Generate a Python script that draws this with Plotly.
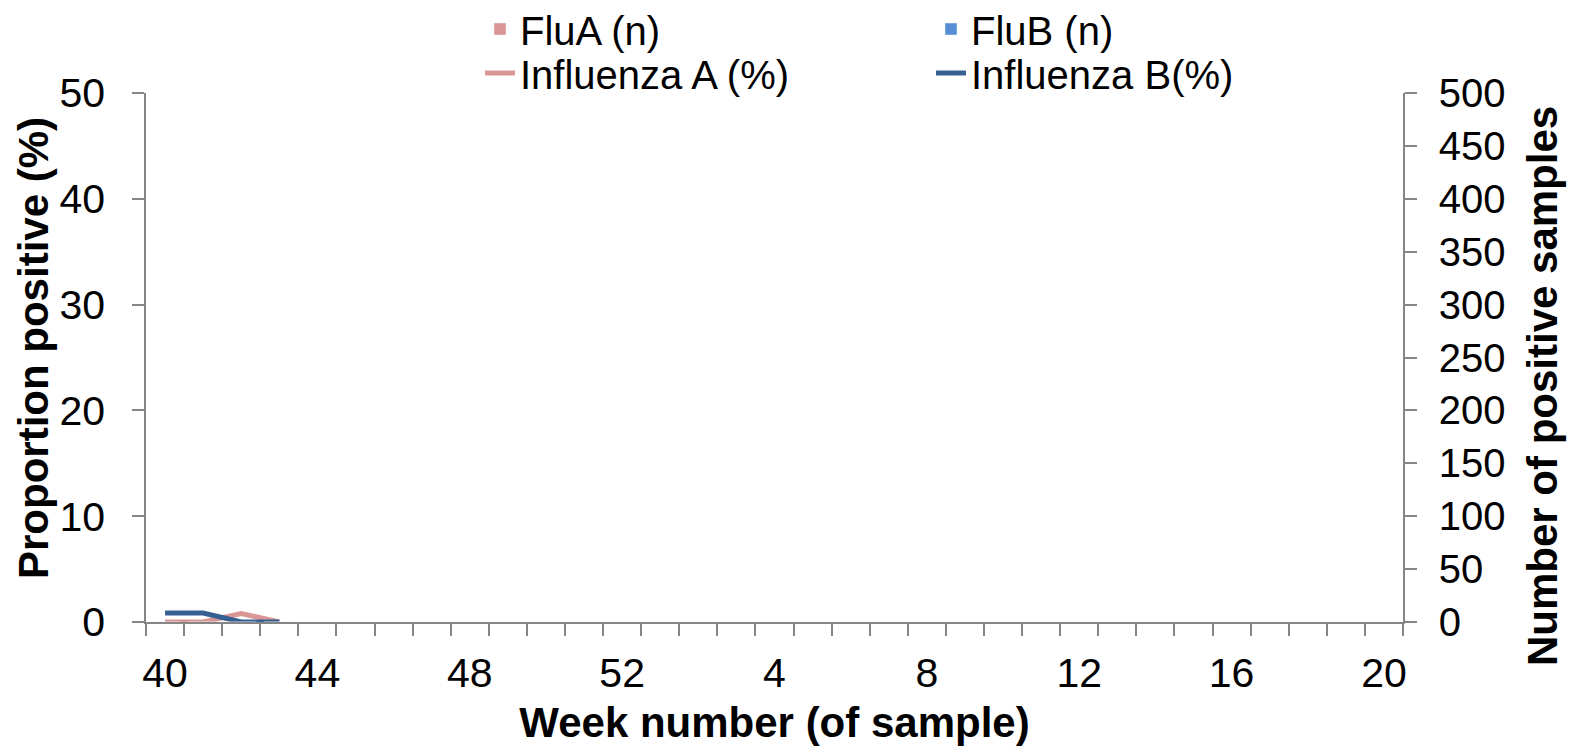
import plotly.graph_objects as go

# ---- data ----
weeks = [str(w) for w in range(40, 53)] + [str(w) for w in range(1, 21)]
flu_a_n = [0, 0, 0, 0] + [None] * 29
flu_b_n = [0, 0, 0, 0] + [None] * 29
influenza_a_pct = [0, 0, 0.8, 0] + [None] * 29
influenza_b_pct = [0.85, 0.85, 0, 0] + [None] * 29
left_ticks = [0, 10, 20, 30, 40, 50]
right_ticks = [0, 50, 100, 150, 200, 250, 300, 350, 400, 450, 500]
label_weeks = ["40", "44", "48", "52", "4", "8", "12", "16", "20"]

x_idx = list(range(len(weeks)))
label_idx = [weeks.index(w) for w in label_weeks]

PINK = "#D99694"
BLUE_BAR = "#558ED5"
BLUE_LINE = "#376092"
AXIS = "#868686"
FONT = "Liberation Sans, Arial, sans-serif"

# page body has an 8px margin, so the figure is a bit smaller than the window
W, H = 1572, 745
L, R, T, B = 138, 177, 85, 131
PW, PH = W - L - R, H - T - B


def px_x(x):
    return (x - L) / PW


def px_y(y):
    return (H - B - y) / PH


fig = go.Figure()
fig.add_trace(go.Bar(x=x_idx, y=flu_a_n, name="FluA (n)", marker_color=PINK,
                     yaxis="y2", legend="legend"))
fig.add_trace(go.Bar(x=x_idx, y=flu_b_n, name="FluB (n)", marker_color=BLUE_BAR,
                     yaxis="y2", legend="legend"))
fig.add_trace(go.Scatter(x=x_idx, y=influenza_a_pct, name="Influenza A (%)", mode="lines",
                         line=dict(color=PINK, width=5), legend="legend2"))
fig.add_trace(go.Scatter(x=x_idx, y=influenza_b_pct, name="Influenza B(%)", mode="lines",
                         line=dict(color=BLUE_LINE, width=5), legend="legend2"))

fig.update_layout(
    width=W, height=H,
    margin=dict(l=L, r=R, t=T, b=B, autoexpand=False),
    paper_bgcolor="white", plot_bgcolor="white",
    font=dict(family=FONT, color="black", size=42),
    barmode="group",
    showlegend=True,
    xaxis=dict(
        range=[-0.5, len(weeks) - 0.5],
        tickmode="array", tickvals=label_idx, ticktext=label_weeks,
        ticks="", ticklabelstandoff=14,
        showline=True, linecolor=AXIS, linewidth=1.5,
        showgrid=False, zeroline=False, automargin=False,
        minor=dict(tick0=-0.5, dtick=1, ticks="outside", ticklen=12,
                   tickcolor=AXIS, tickwidth=1.5, showgrid=False),
        tickfont=dict(size=41),
        title=dict(text="<b>Week number (of sample)</b>", font=dict(size=42), standoff=13),
    ),
    yaxis=dict(
        range=[0, 50], tickmode="array", tickvals=left_ticks,
        ticks="outside", ticklen=12, tickcolor=AXIS, tickwidth=1.5,
        ticklabelstandoff=19,
        showline=True, linecolor=AXIS, linewidth=1.5,
        showgrid=False, zeroline=False, automargin=False,
        tickfont=dict(size=41),
    ),
    yaxis2=dict(
        range=[0, 500], overlaying="y", side="right", tickmode="array",
        tickvals=right_ticks,
        ticks="outside", ticklen=12, tickcolor=AXIS, tickwidth=1.5,
        ticklabelstandoff=14,
        showline=True, linecolor=AXIS, linewidth=1.5,
        showgrid=False, zeroline=False, automargin=False,
        tickfont=dict(size=40),
    ),
    legend=dict(orientation="h", x=px_x(472), xanchor="left",
                y=px_y(21), yanchor="middle", entrywidth=406,
                font=dict(size=40), bgcolor="rgba(0,0,0,0)",
                traceorder="normal"),
    legend2=dict(orientation="h", x=px_x(472), xanchor="left",
                 y=px_y(65), yanchor="middle", entrywidth=406,
                 font=dict(size=40), bgcolor="rgba(0,0,0,0)",
                 traceorder="normal"),
    annotations=[
        dict(text="<b>Proportion positive (%)</b>", textangle=-90,
             xref="paper", yref="paper", x=px_x(25), y=px_y(340),
             showarrow=False, xanchor="center", yanchor="middle",
             font=dict(size=42)),
        dict(text="<b>Number of positive samples</b>", textangle=-90,
             xref="paper", yref="paper", x=px_x(1534), y=px_y(378),
             showarrow=False, xanchor="center", yanchor="middle",
             font=dict(size=42)),
    ],
)

fig.write_html("out.html")
